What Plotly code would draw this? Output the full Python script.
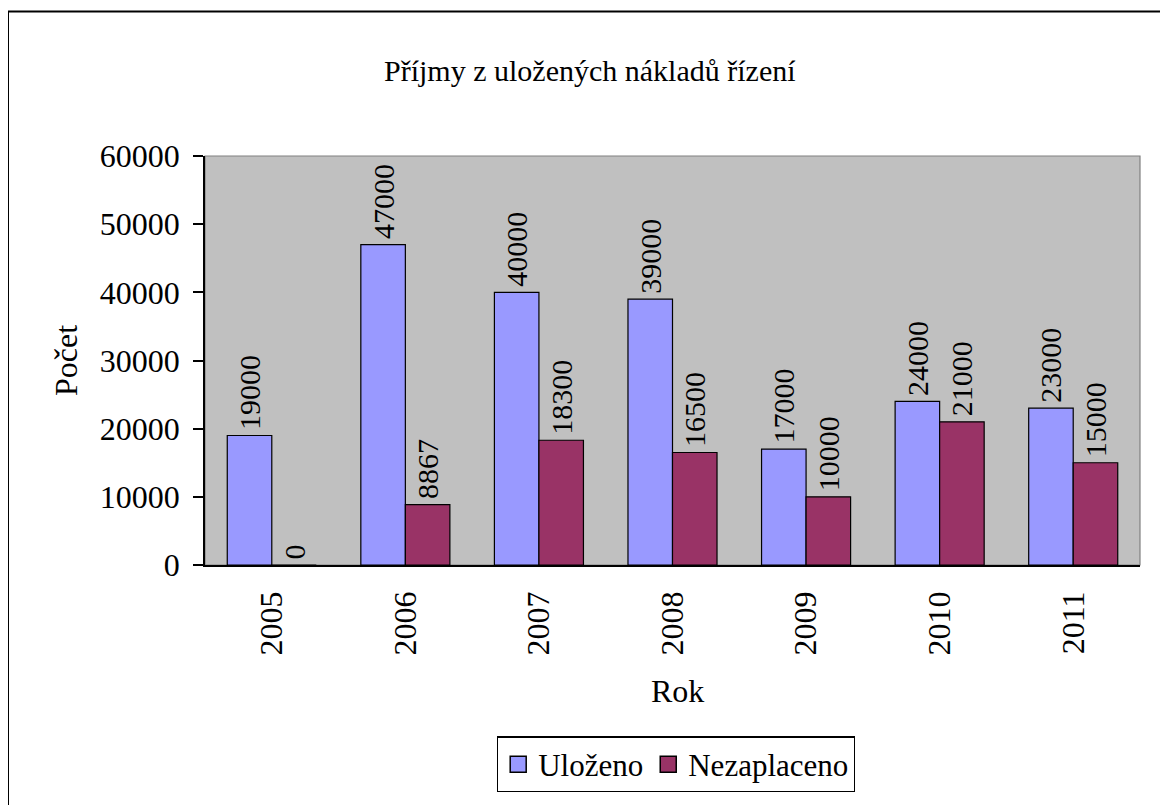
import plotly.graph_objects as go

years = ["2005", "2006", "2007", "2008", "2009", "2010", "2011"]
ulozeno = [19000, 47000, 40000, 39000, 17000, 24000, 23000]
nezaplaceno = [0, 8867, 18300, 16500, 10000, 21000, 15000]
series = [("Uloženo", ulozeno, "#9999FF"), ("Nezaplaceno", nezaplaceno, "#993366")]

FONT = "Liberation Serif"
OFF = 8  # page body margin
W, H = 1168 - OFF, 805 - OFF
L, R, T, B = 205 - OFF, 28, 156 - OFF, 805 - 569
pw, ph = W - L - R, H - T - B

def px(x):
    return (x - OFF - L) / pw

def py(y):
    return (H - B - (y - OFF)) / ph

fig = go.Figure()
for name, vals, col in series:
    fig.add_trace(go.Bar(
        x=years, y=vals, name=name, showlegend=False,
        marker=dict(color=col, line=dict(color="black", width=1.2)),
        text=["\u200a" + str(v) for v in vals], textposition="outside", textangle=-90,
        textfont=dict(family=FONT, size=30, color="black"), cliponaxis=False,
        constraintext="none",
    ))
# legend proxies (square swatches)
for name, vals, col in series:
    fig.add_trace(go.Scatter(
        x=[None], y=[None], name=name, mode="markers",
        marker=dict(symbol="square", size=18, color=col, line=dict(color="black", width=1.5)),
    ))

fig.update_layout(
    width=W, height=H,
    margin=dict(l=L, r=R, t=T, b=B),
    paper_bgcolor="white", plot_bgcolor="#C0C0C0",
    barmode="group", bargap=1/3, bargroupgap=0,
    font=dict(family=FONT, color="black", size=32),
    showlegend=True,
    legend=dict(orientation="h", x=px(676), xanchor="center", y=py(742), yanchor="top",
                bordercolor="black", borderwidth=1.2, bgcolor="white", itemsizing="trace",
                font=dict(family=FONT, size=31), traceorder="normal"),
    xaxis=dict(showgrid=False, ticks="", tickangle=-90, showline=True, linecolor="black",
               linewidth=1.5, tickfont=dict(family=FONT, size=32), ticklabelstandoff=12),
    yaxis=dict(range=[0, 60000], dtick=10000, tickformat="d", showgrid=False, ticks="outside",
               ticklen=10, tickwidth=1.5, tickcolor="black", showline=True, linecolor="black",
               linewidth=1.5, tickfont=dict(family=FONT, size=32), zeroline=False,
               ticklabelstandoff=7),
    shapes=[
        dict(type="rect", xref="paper", yref="paper", x0=0, x1=1, y0=0, y1=1,
             line=dict(color="#808080", width=1.2), layer="below"),
        dict(type="rect", xref="paper", yref="paper", x0=px(8), x1=px(1180), y0=py(820), y1=py(10),
             line=dict(color="black", width=2), layer="above"),
    ],
    annotations=[
        dict(text="Příjmy z uložených nákladů řízení", xref="paper", yref="paper",
             x=px(590), y=py(70), xanchor="center", yanchor="middle", showarrow=False,
             font=dict(family=FONT, size=30)),
        dict(text="Rok", xref="paper", yref="paper", x=px(677), y=py(696), xanchor="center",
             yanchor="middle", showarrow=False, font=dict(family=FONT, size=32)),
        dict(text="Počet", xref="paper", yref="paper", x=px(66), y=py(363), xanchor="center",
             yanchor="middle", showarrow=False, textangle=-90, font=dict(family=FONT, size=32)),
    ],
)

fig.write_html("out.html")
